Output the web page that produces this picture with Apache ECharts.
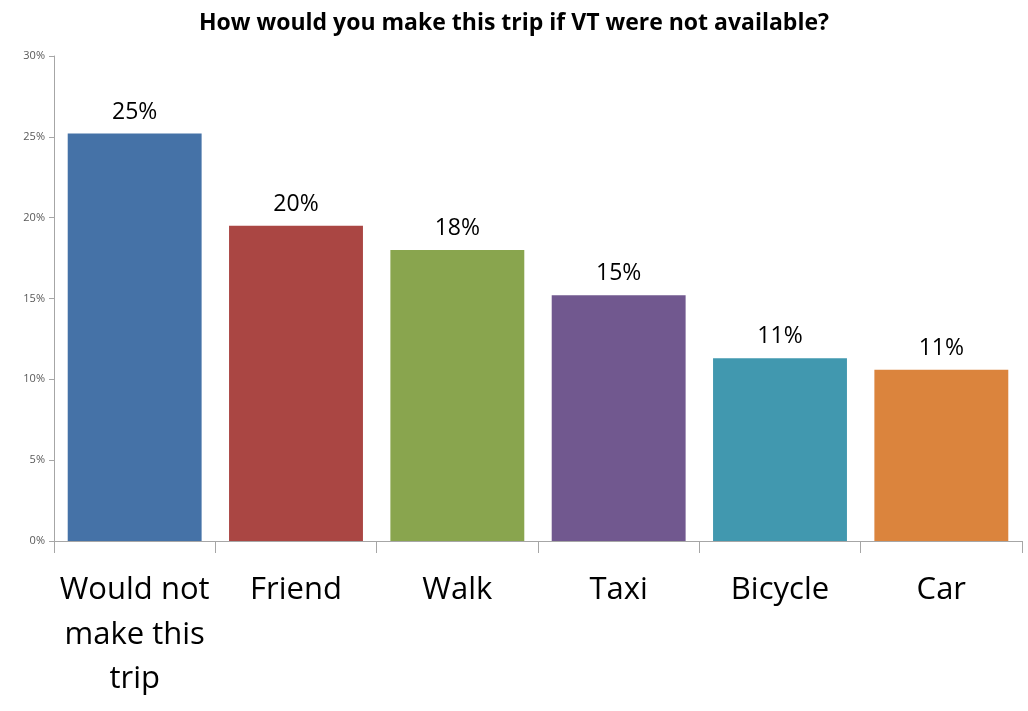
<!DOCTYPE html>
<html>
<head>
<meta charset="utf-8">
<script src="https://cdn.jsdelivr.net/npm/echarts@6/dist/echarts.min.js"></script>
<style>
  html, body { margin: 0; padding: 0; background: #fff; }
  #chart { width: 1028px; height: 711px; }
</style>
</head>
<body>
<div id="chart"></div>
<script>
// Alternative travel modes if VT service were unavailable
const categories = ['Would not\nmake this\ntrip', 'Friend', 'Walk', 'Taxi', 'Bicycle', 'Car'];
const shares = [25.2, 19.5, 18.0, 15.2, 11.3, 10.6];
const barColors = ['#4572A7', '#AA4643', '#89A54E', '#71588F', '#4198AF', '#DB843D'];
const yTicks = [0, 5, 10, 15, 20, 25, 30];

const font = '"Open Sans", Lato, sans-serif';

const chart = echarts.init(document.getElementById('chart'), null, { renderer: 'canvas' });
chart.setOption({
  animation: false,
  title: {
    text: 'How would you make this trip if VT were not available?',
    left: 'center',
    top: 7,
    textStyle: { fontFamily: font, fontSize: 23, fontWeight: 'bold', color: '#000' }
  },
  grid: { left: 54, right: 6, top: 56, bottom: 170 },
  xAxis: {
    type: 'category',
    data: categories,
    axisLine: { lineStyle: { color: '#a6a6a6', width: 1 } },
    axisTick: { show: true, length: 12, lineStyle: { color: '#a6a6a6' } },
    axisLabel: {
      fontFamily: font, fontSize: 31, color: '#000', margin: 27, lineHeight: 44.5,
      interval: 0
    }
  },
  yAxis: {
    type: 'value',
    min: yTicks[0],
    max: yTicks[yTicks.length - 1],
    interval: 5,
    axisLine: { show: true, lineStyle: { color: '#a6a6a6', width: 1 } },
    axisTick: { show: true, length: 5, lineStyle: { color: '#a6a6a6' } },
    splitLine: { show: false },
    axisLabel: {
      fontFamily: font, fontSize: 11, color: '#595959', margin: 9,
      formatter: v => v + '%'
    }
  },
  series: [{
    type: 'bar',
    data: shares.map((v, i) => ({ value: v, itemStyle: { color: barColors[i] } })),
    barCategoryGap: '17%',
    label: {
      show: true,
      position: 'top',
      distance: 10,
      fontFamily: font,
      fontSize: 23,
      color: '#000',
      formatter: p => Math.round(p.value) + '%'
    }
  }]
});
</script>
</body>
</html>
